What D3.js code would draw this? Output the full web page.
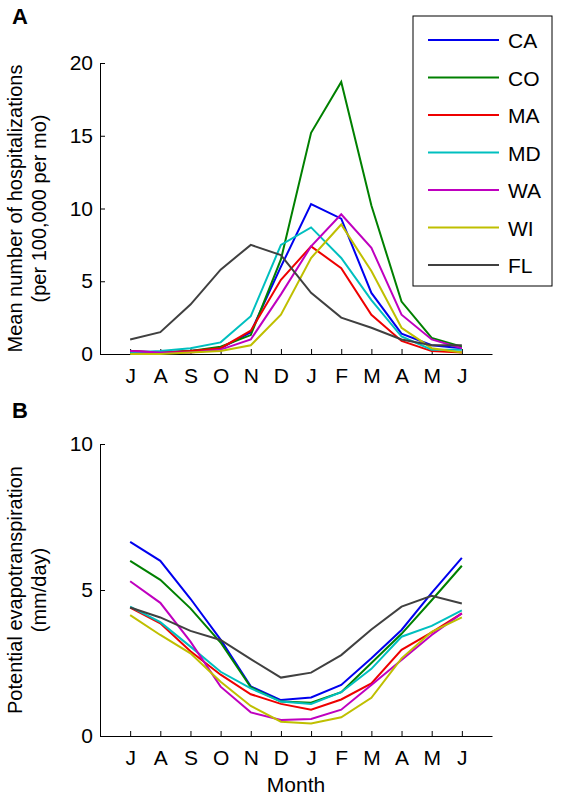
<!DOCTYPE html>
<html><head><meta charset="utf-8">
<script src="https://cdn.jsdelivr.net/npm/d3@7/dist/d3.min.js"></script>
<style>body{margin:0;background:#fff}text{font-family:"Liberation Sans",Arial,sans-serif}</style>
</head><body><svg id="c" width="566" height="800"></svg>
<script>
const months=["J","A","S","O","N","D","J","F","M","A","M","J"];
const states=["CA","CO","MA","MD","WA","WI","FL"];
const colors=["#0000ee","#008000","#ee0000","#00bfbf","#bf00bf","#bfbf00","#404040"];
const hospCA=[0.2,0.1,0.2,0.4,1.5,6,10.3,9.3,4.2,1.4,0.6,0.4];
const hospCO=[0.1,0.1,0.2,0.5,1.3,6.5,15.2,18.7,10.2,3.6,1.1,0.5];
const hospMA=[0.2,0.1,0.2,0.4,1.6,5.1,7.4,5.9,2.7,0.9,0.2,0.1];
const hospMD=[0.1,0.2,0.4,0.8,2.6,7.5,8.7,6.6,3.7,1.2,0.3,0.3];
const hospWA=[0.2,0.1,0.1,0.3,1.0,4.1,7.4,9.6,7.3,2.7,1.0,0.4];
const hospWI=[0,0,0.1,0.2,0.6,2.7,6.6,8.9,5.7,1.8,0.4,0.1];
const hospFL=[1.0,1.5,3.4,5.8,7.5,6.8,4.2,2.5,1.8,1.0,0.6,0.6];
const petCA=[6.65,6.0,4.7,3.3,1.7,1.23,1.32,1.75,2.66,3.63,4.9,6.1];
const petCO=[6.0,5.35,4.37,3.2,1.67,1.18,1.14,1.5,2.5,3.5,4.65,5.83];
const petMA=[4.4,3.86,2.9,2.1,1.43,1.1,0.9,1.25,1.8,2.95,3.55,4.2];
const petMD=[4.43,3.9,3.06,2.2,1.63,1.18,1.1,1.5,2.3,3.4,3.77,4.3];
const petWA=[5.3,4.56,3.23,1.69,0.81,0.55,0.58,0.9,1.75,2.6,3.46,4.2];
const petWI=[4.14,3.46,2.83,1.86,1.03,0.49,0.43,0.64,1.31,2.66,3.57,4.06];
const petFL=[4.4,4.06,3.6,3.29,2.63,2.0,2.17,2.77,3.65,4.43,4.8,4.54];
const hosp=[hospCA,hospCO,hospMA,hospMD,hospWA,hospWI,hospFL];
const pet=[petCA,petCO,petMA,petMD,petWA,petWI,petFL];
const svg=d3.select("#c");
const x=d3.scaleLinear().domain([-1,12]).range([100,492]);
function panel(data,y0,y1,dom,ticks,ylab,letter,ly,month){
  const y=d3.scaleLinear().domain(dom).range([y1,y0]);
  const g=svg.append("g");
  const ax=g.append("g").attr("transform",`translate(0,${y1})`).call(d3.axisBottom(x).tickValues(d3.range(12)).tickFormat(i=>months[i]).tickSize(-5).tickSizeOuter(0).tickPadding(14));
  const ay=g.append("g").attr("transform","translate(100,0)").call(d3.axisLeft(y).tickValues(ticks).tickSize(-5).tickSizeOuter(0).tickPadding(7));
  [ax,ay].forEach(a=>{a.selectAll("text").attr("font-size",21).attr("fill","#000");a.selectAll("line,path").attr("stroke","#000");});
  const line=d3.line().x((d,i)=>x(i)).y(d=>y(d));
  data.forEach((s,k)=>g.append("path").attr("d",line(s)).attr("fill","none").attr("stroke",colors[k]).attr("stroke-width",2));
  const cy=(y0+y1)/2;
  ylab.forEach((t,i)=>g.append("text").attr("transform",`translate(${22+i*24},${cy}) rotate(-90)`).attr("text-anchor","middle").attr("font-size",20).text(t));
  g.append("text").attr("x",12).attr("y",ly).attr("font-size",22).attr("font-weight","bold").text(letter);
  if(month) g.append("text").attr("x",(x(0)+x(11))/2).attr("y",792).attr("text-anchor","middle").attr("font-size",21).text(month);
}
panel(hosp,63,354,[0,20],[0,5,10,15,20],["Mean number of hospitalizations","(per 100,000 per mo)"],"A",24,null);
panel(pet,444,736,[0,10],[0,5,10],["Potential evapotranspiration","(mm/day)"],"B",418,"Month");
const lg=svg.append("g");
lg.append("rect").attr("x",413).attr("y",16).attr("width",139).attr("height",270).attr("fill","#fff").attr("stroke","#000");
states.forEach((s,k)=>{const yy=40+k*37.5;
 lg.append("line").attr("x1",428).attr("x2",499).attr("y1",yy).attr("y2",yy).attr("stroke",colors[k]).attr("stroke-width",2);
 lg.append("text").attr("x",508).attr("y",yy+8).attr("font-size",21).text(s);});
</script></body></html>
